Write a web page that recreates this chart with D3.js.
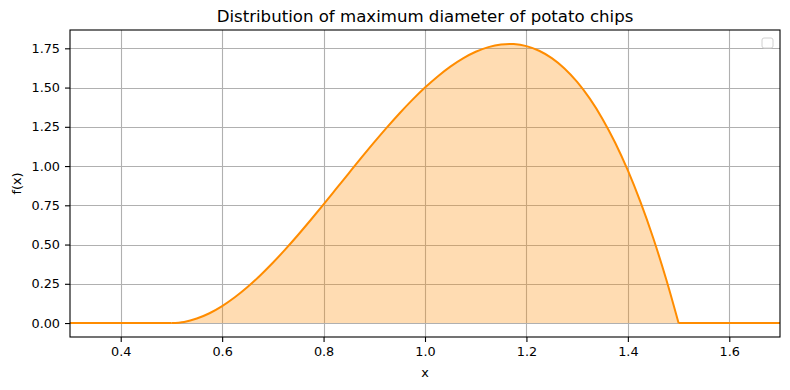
<!DOCTYPE html>
<html>
<head>
<meta charset="utf-8">
<script src="https://cdn.jsdelivr.net/npm/d3@7"></script>
<style>
  body { margin: 0; background: #fff; }
  text { font-family: "DejaVu Sans", sans-serif; fill: #000; }
</style>
</head>
<body>
<script>
// x positions of the curve
var xs = [0.3, 0.5, 0.525, 0.55, 0.575, 0.6, 0.625, 0.65, 0.675, 0.7, 0.725,
  0.75, 0.775, 0.8, 0.825, 0.85, 0.875, 0.9, 0.925, 0.95, 0.975,
  1.0, 1.025, 1.05, 1.075, 1.1, 1.125, 1.15, 1.175, 1.2, 1.225,
  1.25, 1.275, 1.3, 1.325, 1.35, 1.375, 1.4, 1.425, 1.45, 1.475, 1.5, 1.7];
// density values f(x)
var fx = [0, 0, 0.0073, 0.0285, 0.0624, 0.108, 0.1641, 0.2295, 0.3032, 0.384, 0.4708,
  0.5625, 0.6579, 0.756, 0.8556, 0.9555, 1.0547, 1.152, 1.2463, 1.3365, 1.4214,
  1.5, 1.5711, 1.6335, 1.6862, 1.728, 1.7578, 1.7745, 1.7769, 1.764, 1.7346,
  1.6875, 1.6217, 1.536, 1.4293, 1.3005, 1.1484, 0.972, 0.7701, 0.5415, 0.2852, 0, 0];
var xTicks = [0.4, 0.6, 0.8, 1.0, 1.2, 1.4, 1.6];
var yTicks = [0, 0.25, 0.5, 0.75, 1.0, 1.25, 1.5, 1.75];

var data = xs.map(function(x, i) { return {x: x, y: fx[i]}; });
// the hump is smooth, the flat parts are straight (sharp corner at 1.5)
var hump = data.filter(function(d) { return d.x >= 0.5 && d.x <= 1.5; });
var flatL = data.filter(function(d) { return d.x <= 0.5; });
var flatR = data.filter(function(d) { return d.x >= 1.5; });

var margin = {top: 30, right: 10, bottom: 53, left: 70},
    width = 790 - margin.left - margin.right,
    height = 390 - margin.top - margin.bottom;

var x = d3.scaleLinear().domain([0.3, 1.7]).range([0, width]);
var y = d3.scaleLinear().domain([-0.0889, 1.8667]).range([height, 0]);

var svg = d3.select("body").append("svg")
    .attr("width", 790)
    .attr("height", 390);

var g = svg.append("g")
    .attr("transform", "translate(" + margin.left + "," + margin.top + ")");

// grid
g.append("g").selectAll("line").data(xTicks).enter().append("line")
    .attr("x1", function(d) { return Math.round(x(d)) + 0.5; })
    .attr("x2", function(d) { return Math.round(x(d)) + 0.5; })
    .attr("y1", 0).attr("y2", height)
    .attr("stroke", "#b0b0b0").attr("stroke-width", 1.1);
g.append("g").selectAll("line").data(yTicks).enter().append("line")
    .attr("y1", function(d) { return Math.round(y(d)) + 0.5; })
    .attr("y2", function(d) { return Math.round(y(d)) + 0.5; })
    .attr("x1", 0).attr("x2", width)
    .attr("stroke", "#b0b0b0").attr("stroke-width", 1.1);

// fill + line
g.append("path").datum(hump)
    .attr("fill", "#ff8c00").attr("fill-opacity", 0.3)
    .attr("d", d3.area().curve(d3.curveCatmullRom)
      .x(function(d) { return x(d.x); }).y0(y(0)).y1(function(d) { return y(d.y); }));

var line = d3.line().x(function(d) { return x(d.x); }).y(function(d) { return y(d.y); });
[flatL, hump, flatR].forEach(function(seg, i) {
  g.append("path").datum(seg)
    .attr("fill", "none").attr("stroke", "#ff8c00").attr("stroke-width", 2)
    .attr("stroke-linejoin", "round")
    .attr("d", line.curve(i == 1 ? d3.curveCatmullRom : d3.curveLinear));
});

// axes
var xAxis = g.append("g")
    .attr("transform", "translate(0," + height + ")")
    .call(d3.axisBottom(x).tickValues(xTicks).tickFormat(d3.format(".1f")).tickSize(5).tickPadding(5));
var yAxis = g.append("g")
    .call(d3.axisLeft(y).tickValues(yTicks).tickFormat(d3.format(".2f")).tickSize(5).tickPadding(5));
[xAxis, yAxis].forEach(function(a) {
  a.select(".domain").remove();
  a.selectAll("text").attr("font-size", 12.8).attr("font-family", "DejaVu Sans");
  a.selectAll("line").attr("stroke", "#000").attr("stroke-width", 1.1);
});

// frame
g.append("rect").attr("x", 0).attr("y", 0).attr("width", width).attr("height", height)
    .attr("fill", "none").attr("stroke", "#000").attr("stroke-width", 1.1);

// empty legend
g.append("rect").attr("x", width - 18).attr("y", 8).attr("width", 11).attr("height", 10)
    .attr("rx", 2).attr("fill", "#fff").attr("fill-opacity", 0.8)
    .attr("stroke", "#d0d0d0").attr("stroke-width", 1);

// labels
svg.append("text").attr("x", margin.left + width / 2).attr("y", 22)
    .attr("text-anchor", "middle").attr("font-size", 16.6)
    .text("Distribution of maximum diameter of potato chips");
svg.append("text").attr("x", margin.left + width / 2).attr("y", 377)
    .attr("text-anchor", "middle").attr("font-size", 12.8).text("x");
svg.append("text").attr("transform", "translate(21," + (margin.top + height / 2) + ") rotate(-90)")
    .attr("text-anchor", "middle").attr("font-size", 12.8).text("f(x)");
</script>
</body>
</html>
